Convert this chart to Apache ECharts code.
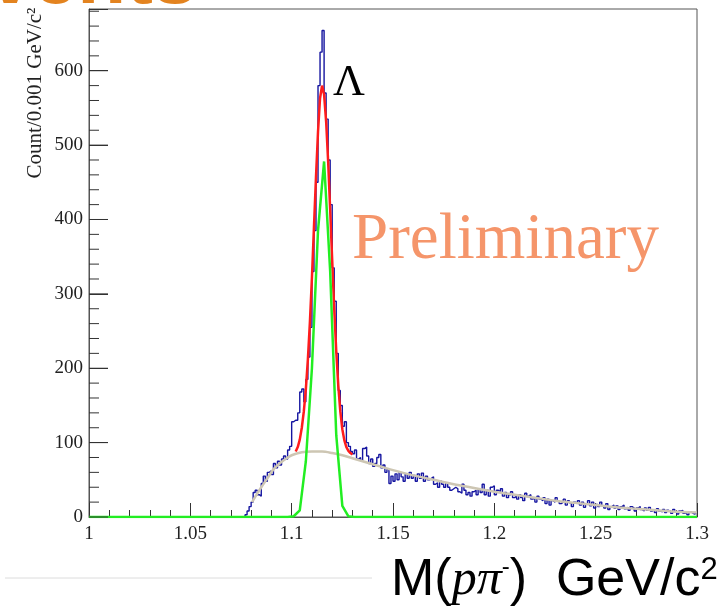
<!DOCTYPE html>
<html>
<head>
<meta charset="utf-8">
<script src="https://cdn.jsdelivr.net/npm/echarts@6/dist/echarts.min.js"></script>
<style>
html,body{margin:0;padding:0;background:#fff;}
#chart{width:720px;height:613px;}
</style>
</head>
<body>
<div id="chart"></div>
<script>
// ---- Data ----
// Histogram: counts per 0.001 GeV/c^2 bin, first bin starts at 1.077
const histFirstBin = 1.077;
const binWidth = 0.001;
const counts = [
  3, 8, 14, 20, 33, 36, 30, 28, 45, 55,
  48, 60, 62, 57, 72, 66, 75, 70, 78, 82,
  78, 90, 95, 128, 130, 130, 140, 168, 172, 155,
  185, 215, 255, 330, 385, 450, 580, 625, 654, 570,
  535, 480, 420, 335, 290, 220, 170, 150, 122, 128,
  100, 95,
  88, 85, 90, 78, 80, 76, 92, 94, 82, 72,
  78, 68, 72, 80, 84, 66, 70, 60, 64, 45,
  55, 48, 58, 50, 60, 54, 48, 58, 52, 60,
  52, 56, 48, 58, 52, 59, 48, 55, 50, 52,
  54, 44, 46, 40, 48, 44, 40, 46, 40, 36,
  38, 40, 38, 34, 32, 44, 36, 30, 33, 28,
  34, 36, 30, 38, 33, 44, 30, 36, 28, 40,
  42, 30, 36, 34, 38, 28, 33, 26, 30, 34,
  26, 28, 24, 30, 26, 22, 32, 28, 30, 24,
  26, 20, 28, 24, 22, 26, 18, 24, 16, 22,
  20, 26, 22, 18, 20, 24, 16, 22, 19, 14,
  20, 18, 22, 16, 20, 13, 18, 22, 15, 20,
  12, 17, 14, 20, 15, 12, 18, 10, 14, 16,
  12, 15, 10, 14, 16, 11, 13, 9, 14, 12,
  8, 12, 14, 10, 8, 12, 9, 13, 8, 10,
  6, 11, 8, 7, 10, 6, 9, 8, 5, 10,
  7, 4, 8, 9, 5, 6, 3, 7, 5, 4, 6
];
const xMin = 1.0, xMax = 1.3;

// Background fit (grey)
const bkgX = [1.0805, 1.082, 1.085, 1.088, 1.091, 1.094, 1.097, 1.100, 1.105, 1.110, 1.115, 1.120, 1.125, 1.130, 1.135, 1.140, 1.145, 1.150, 1.160, 1.170, 1.180, 1.190, 1.200, 1.210, 1.220, 1.230, 1.240, 1.250, 1.260, 1.270, 1.280, 1.290, 1.300];
const bkgY = [20, 27, 40, 52, 64, 72, 78, 83, 87, 88, 88, 86, 83, 79, 75, 71, 67, 63, 56, 50, 44, 39, 34, 30, 26, 22, 19, 16, 13, 11, 9, 7, 6];

// Signal Gaussian (green)
const sigX = [1.000, 1.098, 1.101, 1.104, 1.107, 1.110, 1.113, 1.116, 1.119, 1.122, 1.125, 1.128, 1.131, 1.300];
const sigY = [0, 0, 1, 9, 75, 200, 385, 478, 330, 110, 15, 1, 0, 0];

// Total fit (red)
const totX = [1.102, 1.103, 1.104, 1.105, 1.106, 1.107, 1.108, 1.109, 1.110, 1.111, 1.112, 1.113, 1.114, 1.115, 1.116, 1.117, 1.118, 1.119, 1.120, 1.121, 1.122, 1.123, 1.124, 1.125, 1.126, 1.127, 1.128, 1.129, 1.130];
const totY = [88, 94, 104, 120, 142, 172, 212, 262, 322, 390, 457, 518, 563, 580, 568, 532, 478, 413, 345, 280, 223, 177, 142, 118, 103, 94, 89, 86, 84];

// Axis ticks (y)
const yMajorTicks = [0, 100, 200, 300, 400, 500, 600];
const yMinorTicks = [20, 40, 60, 80, 120, 140, 160, 180, 220, 240, 260, 280, 320, 340, 360, 380, 420, 440, 460, 480, 520, 540, 560, 580, 620, 640, 660, 680];
const yMax = 683;

// ---- Layout ----
const W = 720, gridLeft = 89, gridRight = 23;
const unitsPerPx = (xMax - xMin) / (W - gridLeft - gridRight);

// ---- Build ----
const histData = [[xMin, 0]];
counts.forEach((c, i) => histData.push([+(histFirstBin + i * binWidth).toFixed(3), c]));
histData.push([xMax, counts[counts.length - 1]]);
const zip = (a, b) => a.map((v, i) => [v, b[i]]);

const serif = '"Liberation Serif", "Times New Roman", serif';
const sans = '"Liberation Sans", Arial, sans-serif';
const tickColor = '#333';

const tickSeries = (v, lenPx) => ({
  type: 'line', symbol: 'none', silent: true, z: 6, clip: false,
  data: [[xMin, v], [xMin + lenPx * unitsPerPx, v]],
  lineStyle: {color: tickColor, width: 1}
});

const series = [
  {type: 'line', step: 'end', data: histData, symbol: 'none', z: 2,
    lineStyle: {color: '#1515a0', width: 1.4}},
  {type: 'line', data: zip(bkgX, bkgY), symbol: 'none', smooth: 0.3, z: 3,
    lineStyle: {color: '#cdc6b3', width: 2.5}},
  {type: 'line', data: zip(totX, totY), symbol: 'none', z: 4,
    lineStyle: {color: '#ff1c1c', width: 2.5}},
  {type: 'line', data: zip(sigX, sigY), symbol: 'none', z: 5,
    lineStyle: {color: '#22ee22', width: 2.5}}
].concat(yMajorTicks.map(v => tickSeries(v, 19)), yMinorTicks.map(v => tickSeries(v, 10)));

const chart = echarts.init(document.getElementById('chart'), null, {renderer: 'canvas'});
chart.setOption({
  animation: false,
  grid: {left: gridLeft, right: gridRight, top: 9, bottom: 96, show: true, borderColor: '#555', borderWidth: 1},
  xAxis: {
    type: 'value', min: xMin, max: xMax, interval: 0.05,
    axisLine: {show: true, lineStyle: {color: '#555', width: 1}},
    axisTick: {show: true, inside: true, length: 14, lineStyle: {color: tickColor, width: 1}},
    minorTick: {show: true, splitNumber: 5, length: 7, lineStyle: {color: tickColor, width: 1}},
    splitLine: {show: false},
    minorSplitLine: {show: false},
    axisLabel: {show: true, fontFamily: serif, fontSize: 19, color: '#222', margin: 8,
      formatter: v => String(+v.toFixed(2))}
  },
  yAxis: {
    type: 'value', min: 0, max: yMax, interval: 100,
    axisLine: {show: true, lineStyle: {color: '#555', width: 1}},
    axisTick: {show: true, inside: true, length: 19, lineStyle: {color: tickColor, width: 1}},
    axisLabel: {show: true, fontFamily: serif, fontSize: 19, color: '#222', margin: 6,
      formatter: v => (v > 600 ? '' : String(v))},
    splitLine: {show: false}
  },
  series: series,
  graphic: [
    {type: 'text', x: -65, y: -19, style: {text: 'Events', font: 'bold 80px ' + sans, fill: '#e3831f', textVerticalAlign: 'middle'}},
    {type: 'text', x: 35, y: 93, rotation: Math.PI / 2,
      style: {text: 'Count/0.001 GeV/c²', font: '21px ' + serif, fill: '#222', textAlign: 'center', textVerticalAlign: 'middle'}},
    {type: 'text', x: 333, y: 83, style: {text: 'Λ', font: '44px ' + serif, fill: '#000', textVerticalAlign: 'middle'}},
    {type: 'text', x: 352, y: 241, style: {text: 'Preliminary', font: '65px ' + serif, fill: '#f5956a', textVerticalAlign: 'middle'}},
    {type: 'line', shape: {x1: 5, y1: 578, x2: 372, y2: 578}, style: {stroke: '#dcdcdc', lineWidth: 1}},
    {type: 'text', x: 391, y: 581, style: {
      text: '{a|M(}{b|pπ}{c|-}{a|)  GeV/c}{d|2}',
      textVerticalAlign: 'middle',
      rich: {
        a: {fontFamily: sans, fontSize: 52, color: '#000'},
        b: {fontFamily: serif, fontStyle: 'italic', fontSize: 50, color: '#000'},
        c: {fontFamily: sans, fontSize: 24, color: '#000', verticalAlign: 'top'},
        d: {fontFamily: sans, fontSize: 31, color: '#000', verticalAlign: 'top'}
      }
    }}
  ]
});
</script>
</body>
</html>
